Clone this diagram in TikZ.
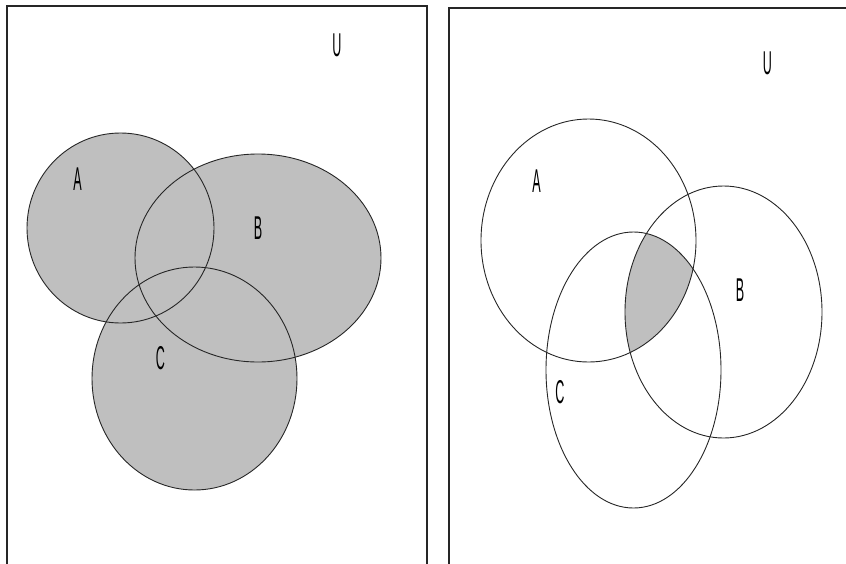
\documentclass[tikz,border=0pt]{standalone}
\usepackage{fontspec}
\setmainfont{Liberation Sans}
\begin{document}
\begin{tikzpicture}[x=1pt,y=-1pt,
  frame/.style={draw=black!85,line width=1.1pt},
  setline/.style={draw=black!85,line width=0.9pt},
  shade/.style={fill=black!25},
  lbl/.style={inner sep=0pt,font=\fontsize{33}{33}\selectfont}]
\useasboundingbox (0,0) rectangle (846,563);
% frames
\draw[frame] (7,570) -- (7,6) -- (427,6) -- (427,570);
\draw[frame] (449,570) -- (449,8) -- (852,8);
% left panel: A union B union C
\fill[shade] (120.5,228) ellipse [x radius=93.5,y radius=95];
\fill[shade] (258,258) ellipse [x radius=123,y radius=104];
\fill[shade] (194.5,378.5) ellipse [x radius=102.5,y radius=111.5];
\draw[setline] (120.5,228) ellipse [x radius=93.5,y radius=95];
\draw[setline] (258,258) ellipse [x radius=123,y radius=104];
\draw[setline] (194.5,378.5) ellipse [x radius=102.5,y radius=111.5];
\node[lbl] (uL) at (337,45) {\scalebox{0.38}[1]{U}};
\node[lbl] (aL) at (77.5,179) {\scalebox{0.38}[1]{A}};
\node[lbl] (bL) at (258,228) {\scalebox{0.38}[1]{B}};
\node[lbl] (cL) at (160.5,358) {\scalebox{0.38}[1]{C}};
% right panel: A intersect B intersect C
\begin{scope}
  \clip (588.5,240.5) ellipse [x radius=107.5,y radius=121.5];
  \clip (723.5,312) ellipse [x radius=98.5,y radius=126];
  \fill[shade] (633.5,370) ellipse [x radius=87.5,y radius=138];
\end{scope}
\draw[setline] (588.5,240.5) ellipse [x radius=107.5,y radius=121.5];
\draw[setline] (723.5,312) ellipse [x radius=98.5,y radius=126];
\draw[setline] (633.5,370) ellipse [x radius=87.5,y radius=138];
\node[lbl] (uR) at (767.5,63) {\scalebox{0.38}[1]{U}};
\node[lbl] (aR) at (536.5,181) {\scalebox{0.38}[1]{A}};
\node[lbl] (bR) at (740,290) {\scalebox{0.38}[1]{B}};
\node[lbl] (cR) at (560,392) {\scalebox{0.38}[1]{C}};
\end{tikzpicture}
\end{document}
